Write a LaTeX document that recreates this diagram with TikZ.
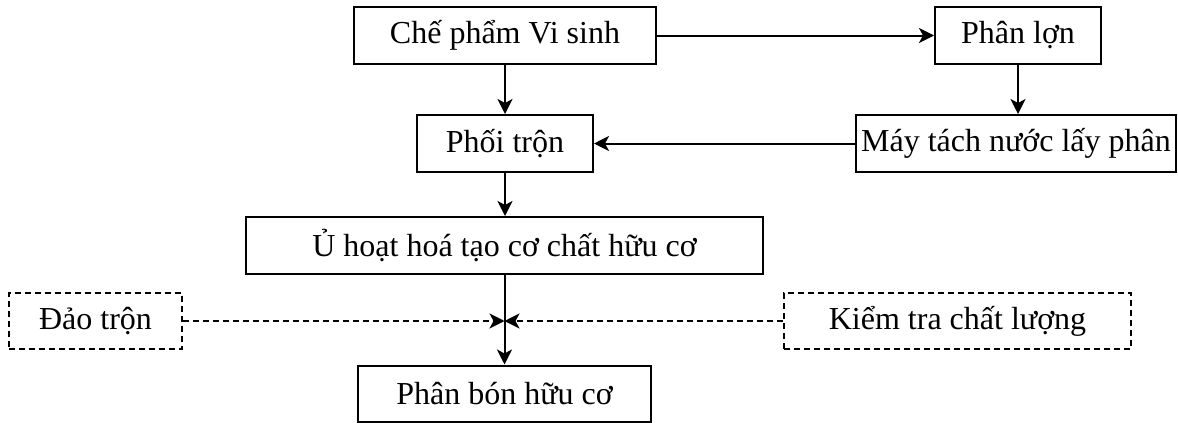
\documentclass[tikz,border=0pt]{standalone}
\usepackage{fontspec}
\setmainfont{Liberation Serif}
\usetikzlibrary{arrows.meta}
\begin{document}
\begin{tikzpicture}[x=1pt,y=-1pt,
  box/.style={draw,line width=2pt,inner sep=0pt,align=center,font=\fontsize{32}{38}\selectfont},
  dbox/.style={box,dashed,dash pattern=on 6pt off 4pt,line width=1.8pt},
  arr/.style={line width=2pt,-{Stealth[length=15pt,width=15pt,inset=4pt]}},
  darr/.style={arr,line width=1.6pt,dash pattern=on 6pt off 4pt}]
\useasboundingbox (0,0) rectangle (1178,423);
\node[box,minimum width=302pt,minimum height=57pt] (cp) at (505,35.5) {Chế phẩm Vi sinh};
\node[box,minimum width=166pt,minimum height=57pt] (pl) at (1018,35.5) {Phân lợn};
\node[box,minimum width=176pt,minimum height=57pt] (pt) at (505,143.5) {Phối trộn};
\node[box,minimum width=320pt,minimum height=57pt] (mt) at (1016,143.5) {Máy tách nước lấy phân};
\node[box,minimum width=517pt,minimum height=57pt] (u) at (504.5,245.5) {Ủ hoạt hoá tạo cơ chất hữu cơ};
\node[dbox,minimum width=173pt,minimum height=56pt] (dt) at (95.5,321) {Đảo trộn};
\node[dbox,minimum width=347pt,minimum height=56pt] (kt) at (957.5,321) {Kiểm tra chất lượng};
\node[box,minimum width=293pt,minimum height=56pt] (pb) at (504.5,393.5) {Phân bón hữu cơ};
\coordinate (j) at (504.5,321);
\draw[arr] (cp.east) -- (pl.west);
\draw[arr] (cp.south) -- (pt.north);
\draw[arr] (pl.south) -- (pl.south |- mt.north);
\draw[arr] (mt.west) -- (pt.east);
\draw[arr] (pt.south) -- (pt.south |- u.north);
\draw[arr] (u.south) -- (pb.north);
\draw[darr] (dt.east) -- (j);
\draw[darr] (kt.west) -- (j);
\end{tikzpicture}
\end{document}
